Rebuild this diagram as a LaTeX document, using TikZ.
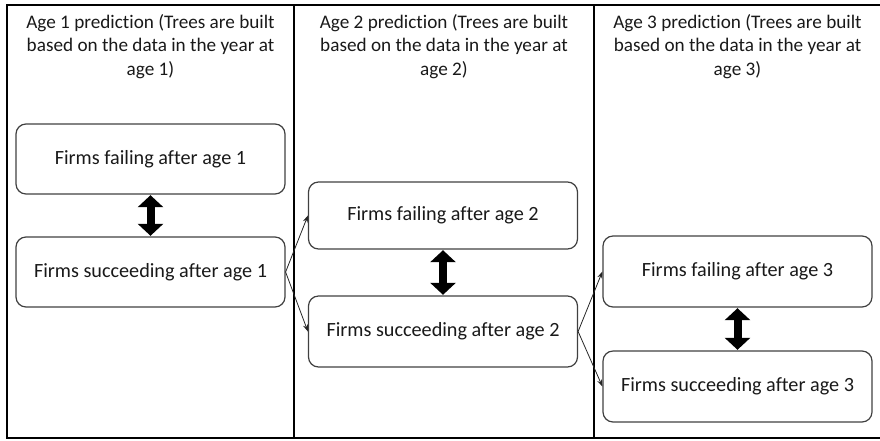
\documentclass[tikz,border=0pt]{standalone}
\usepackage{fontspec}
\setmainfont{Carlito}[Ligatures={NoCommon,NoRequired,NoContextual}]
\usetikzlibrary{arrows.meta}
\tikzset{
  frameline/.style={line width=1.3pt, draw=black},
  header/.style={align=center, font=\fontsize{19.2}{23.5}\selectfont, text=black!90, inner sep=0pt, anchor=north},
  firmbox/.style={draw=black!75, line width=1.2pt, rounded corners=10pt, minimum width=269pt, minimum height=70pt, inner sep=0pt, font=\fontsize{20.2}{24}\selectfont, text=black!90},
  bigarrow/.style={line width=8pt, draw=black, {Triangle[length=12pt,width=25pt]}-{Triangle[length=12pt,width=25pt]}, shorten <=0.6pt, shorten >=0.6pt},
  thinarrow/.style={line width=0.8pt, draw=black!85, -{Stealth[length=7pt,width=5pt]}}
}
\begin{document}
\begin{tikzpicture}[x=1pt,y=-1pt]
\useasboundingbox (0,0) rectangle (880,440);
% frame
\coordinate (tl) at (7,5);
\coordinate (tr) at (882,5);
\coordinate (bl) at (7,438);
\coordinate (br) at (882,438);
\coordinate (d1t) at (294,5);
\coordinate (d1b) at (294,438);
\coordinate (d2t) at (594,5);
\coordinate (d2b) at (594,438);
\draw[frameline] (tr) -- (tl) -- (bl) -- (br);
\draw[frameline] (d1t) -- (d1b);
\draw[frameline] (d2t) -- (d2b);
% headers
\node[header] (h1) at (150.5,14) {Age 1 prediction (Trees are built\\based on the data in the year at\\age 1)};
\node[header] (h2) at (444,14) {Age 2 prediction (Trees are built\\based on the data in the year at\\age 2)};
\node[header] (h3) at (737.5,14) {Age 3 prediction (Trees are built\\based on the data in the year at\\age 3)};
% boxes
\node[firmbox] (f1) at (150.5,159) {Firms failing after age 1};
\node[firmbox] (s1) at (150.5,272) {Firms succeeding after age 1};
\node[firmbox, minimum height=67pt] (f2) at (443,215.5) {Firms failing after age 2};
\node[firmbox, minimum height=71pt] (s2) at (443,331.5) {Firms succeeding after age 2};
\node[firmbox, minimum height=71pt] (f3) at (737.5,271.5) {Firms failing after age 3};
\node[firmbox, minimum height=71pt] (s3) at (737.5,386.5) {Firms succeeding after age 3};
% double arrows
\draw[bigarrow] (f1.south) -- (s1.north);
\draw[bigarrow] (f2.south) -- (s2.north);
\draw[bigarrow] (f3.south) -- (s3.north);
% thin arrows
\draw[thinarrow] (s1.east) -- (f2.west);
\draw[thinarrow] (s1.east) -- (s2.west);
\draw[thinarrow] (s2.east) -- (f3.west);
\draw[thinarrow] (s2.east) -- (s3.west);
\end{tikzpicture}
\end{document}
